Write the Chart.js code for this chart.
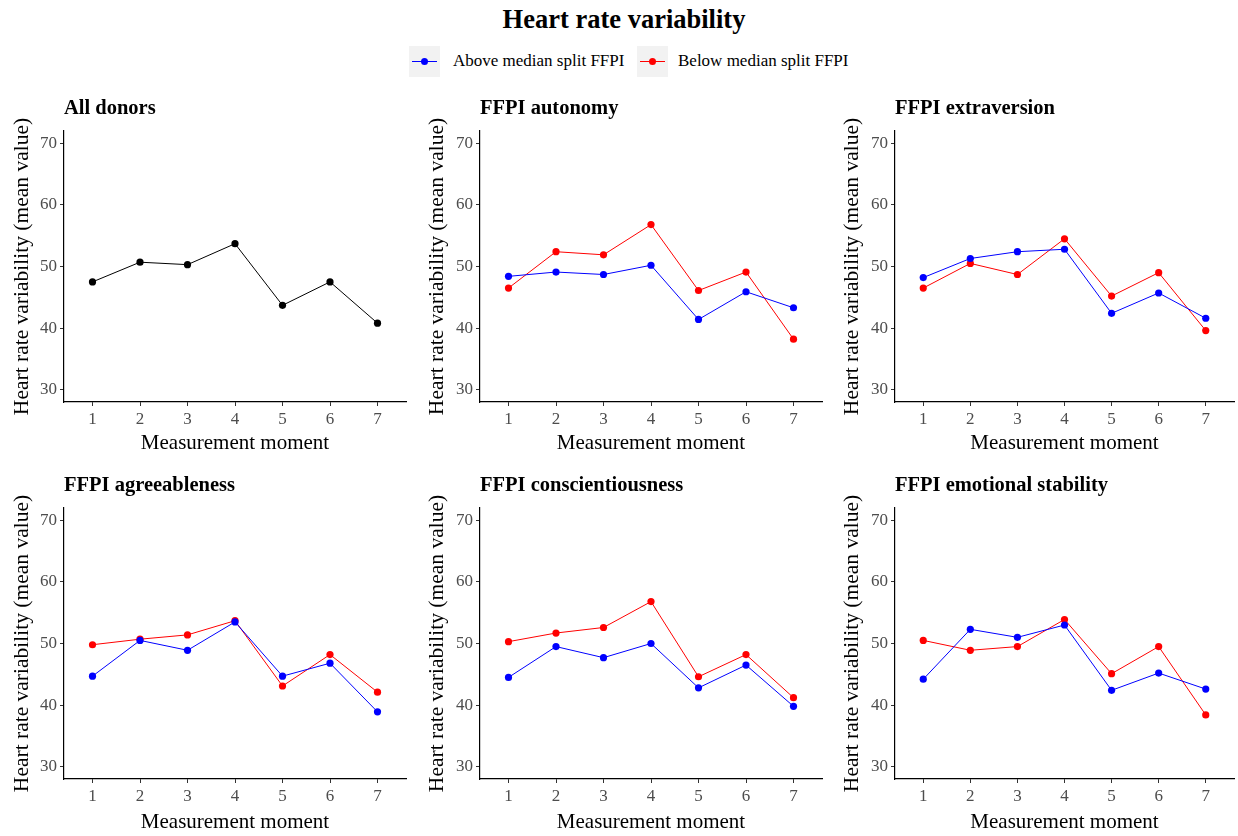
<!DOCTYPE html>
<html>
<head>
<meta charset="utf-8">
<script src="https://cdn.jsdelivr.net/npm/chart.js@4"></script>
<style>
  body { margin: 0; background: #fff; width: 1238px; height: 836px; position: relative; overflow: hidden; font-family: "Liberation Serif", "DejaVu Serif", serif; }
  #mainTitle { position: absolute; top: 3px; left: 0; width: 1248px; text-align: center; font-weight: bold; font-size: 26.5px; line-height: 32px; color: #000; }
  .key { position: absolute; top: 46px; width: 31px; height: 31px; background: #f2f2f2; }
  .key .ln { position: absolute; left: 3px; right: 3px; top: 15px; height: 1px; }
  .key .dt { position: absolute; left: 12px; top: 12px; width: 7px; height: 7px; border-radius: 50%; }
  .keyLabel { position: absolute; top: 51px; font-size: 17px; line-height: 20px; color: #000; }
  .panel { position: absolute; height: 369px; }
</style>
</head>
<body>
<div id="mainTitle">Heart rate variability</div>
<div class="key" style="left:409px"><div class="ln" style="background:#0000ff"></div><div class="dt" style="background:#0000ff"></div></div>
<div class="keyLabel" style="left:453px">Above median split FFPI</div>
<div class="key" style="left:637px"><div class="ln" style="background:#ff0000"></div><div class="dt" style="background:#ff0000"></div></div>
<div class="keyLabel" style="left:678px">Below median split FFPI</div>

<div class="panel" style="left:0;top:90px;width:415px"><canvas id="c0"></canvas></div>
<div class="panel" style="left:415px;top:90px;width:415px"><canvas id="c1"></canvas></div>
<div class="panel" style="left:830px;top:90px;width:408px"><canvas id="c2"></canvas></div>
<div class="panel" style="left:0;top:467px;width:415px"><canvas id="c3"></canvas></div>
<div class="panel" style="left:415px;top:467px;width:415px"><canvas id="c4"></canvas></div>
<div class="panel" style="left:830px;top:467px;width:408px"><canvas id="c5"></canvas></div>

<script>
const moments = [1, 2, 3, 4, 5, 6, 7];
const yTicks = [30, 40, 50, 60, 70];

const allDonors = [47.5, 50.7, 50.3, 53.7, 43.7, 47.5, 40.8];

const autonomyAbove = [48.4, 49.1, 48.7, 50.2, 41.4, 45.9, 43.3];
const autonomyBelow = [46.5, 52.4, 51.9, 56.8, 46.1, 49.1, 38.2];

const extraversionAbove = [48.2, 51.3, 52.4, 52.8, 42.4, 45.7, 41.6];
const extraversionBelow = [46.5, 50.5, 48.7, 54.5, 45.2, 49.0, 39.6];

const agreeablenessAbove = [44.7, 50.5, 48.9, 53.5, 44.7, 46.8, 38.9];
const agreeablenessBelow = [49.8, 50.7, 51.4, 53.7, 43.1, 48.2, 42.1];

const conscientiousnessAbove = [44.5, 49.5, 47.7, 50.0, 42.8, 46.5, 39.8];
const conscientiousnessBelow = [50.3, 51.7, 52.6, 56.8, 44.6, 48.2, 41.2];

const stabilityAbove = [44.2, 52.3, 51.0, 53.0, 42.4, 45.2, 42.6];
const stabilityBelow = [50.5, 48.9, 49.5, 53.9, 45.1, 49.5, 38.4];

const FONT = "'Liberation Serif', 'DejaVu Serif', serif";

function series(values, color) {
    return {
        data: moments.map((m, i) => ({ x: m, y: values[i] })),
        borderColor: color,
        backgroundColor: color,
        borderWidth: 1,
        pointRadius: 3.6,
        pointBorderWidth: 0,
        tension: 0
    };
}

function makePanel(id, title, datasets, yWidth, rightPad, xPadBottom) {
    const ctx = document.getElementById(id).getContext('2d');
    return new Chart(ctx, {
        type: 'line',
        data: { datasets: datasets },
        options: {
            responsive: true,
            maintainAspectRatio: false,
            animation: false,
            layout: { padding: { left: 0, right: rightPad, top: 0, bottom: 0 } },
            plugins: {
                legend: { display: false },
                tooltip: { enabled: false },
                title: {
                    display: true,
                    text: title,
                    align: 'start',
                    fullSize: false,
                    color: '#000',
                    font: { family: FONT, size: 20.5, weight: 'bold', lineHeight: 1.2 },
                    padding: { top: 6, bottom: 10.4 }
                }
            },
            scales: {
                x: {
                    type: 'linear',
                    min: 0.4,
                    max: 7.6,
                    afterBuildTicks: s => { s.ticks = moments.map(v => ({ value: v })); },
                    afterFit: s => { s.height = 57; },
                    grid: { drawOnChartArea: false, drawTicks: true, tickLength: 4, color: '#333', lineWidth: 1 },
                    border: { display: true, color: '#000', width: 1.2 },
                    ticks: { color: '#4d4d4d', font: { family: FONT, size: 17 }, padding: 3, maxRotation: 0 },
                    title: {
                        display: true,
                        text: 'Measurement moment',
                        color: '#000',
                        font: { family: FONT, size: 21, lineHeight: 1.2 },
                        padding: { top: 0, bottom: xPadBottom }
                    }
                },
                y: {
                    min: 28,
                    max: 72,
                    afterBuildTicks: s => { s.ticks = yTicks.map(v => ({ value: v })); },
                    afterFit: s => { s.width = yWidth; },
                    grid: { drawOnChartArea: false, drawTicks: true, tickLength: 4, color: '#333', lineWidth: 1 },
                    border: { display: true, color: '#000', width: 1.2 },
                    ticks: { color: '#4d4d4d', font: { family: FONT, size: 17 }, padding: 3 },
                    title: {
                        display: true,
                        text: 'Heart rate variability (mean value)',
                        color: '#000',
                        font: { family: FONT, size: 21.5, lineHeight: 1.2 },
                        padding: { top: 9, bottom: 0 }
                    }
                }
            }
        }
    });
}

const BLUE = '#0000ff';
const RED = '#ff0000';

makePanel('c0', 'All donors', [series(allDonors, '#000000')], 64, 9, 2.5);
makePanel('c1', 'FFPI autonomy', [series(autonomyAbove, BLUE), series(autonomyBelow, RED)], 65, 8, 2.5);
makePanel('c2', 'FFPI extraversion', [series(extraversionAbove, BLUE), series(extraversionBelow, RED)], 65, 1, 2.5);
makePanel('c3', 'FFPI agreeableness', [series(agreeablenessAbove, BLUE), series(agreeablenessBelow, RED)], 64, 9, 1);
makePanel('c4', 'FFPI conscientiousness', [series(conscientiousnessAbove, BLUE), series(conscientiousnessBelow, RED)], 65, 8, 1);
makePanel('c5', 'FFPI emotional stability', [series(stabilityAbove, BLUE), series(stabilityBelow, RED)], 65, 1, 1);
</script>
</body>
</html>
